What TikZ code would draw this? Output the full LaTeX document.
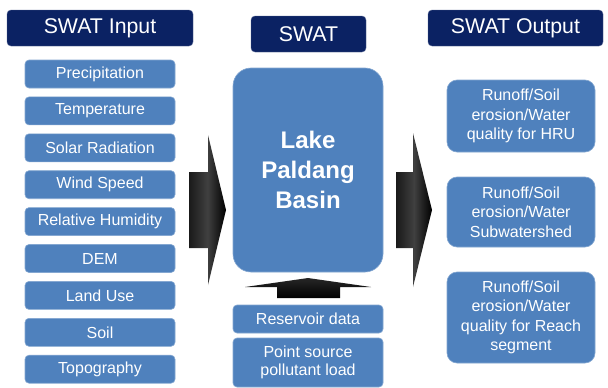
\documentclass[tikz,border=0pt]{standalone}
\usepackage{fontspec}
\setmainfont{Liberation Sans}
\begin{document}
\begin{tikzpicture}[x=1pt,y=-1pt,
  hdr/.style={fill=navy, rounded corners=4pt, text=white, font=\fontsize{21.3}{24}\selectfont, inner sep=0pt, draw=navy!70!white, line width=0.4pt},
  inbox/.style={fill=boxblue, draw=boxblue!70!white, line width=0.6pt, rounded corners=4pt, text=white, font=\fontsize{16}{19}\selectfont, inner sep=0pt, align=center},
  outbox/.style={inbox, rounded corners=10pt, minimum width=148pt, font=\fontsize{16}{19.5}\selectfont},
  arrowshade/.style={left color=black!90, right color=black, middle color=black!75}
]
\definecolor{navy}{HTML}{0B2263}
\definecolor{boxblue}{HTML}{4F81BD}
\useasboundingbox (0,0) rectangle (608,388);
\fill[white] (0,0) rectangle (608,388);

% headers
\node[hdr, minimum width=186pt, minimum height=36pt] (hin) at (100,28) {SWAT Input};
\node[hdr, minimum width=115pt, minimum height=36pt] (hswat) at (308.5,34) {SWAT};
\node[hdr, minimum width=175pt, minimum height=36pt] (hout) at (515.5,28) {SWAT Output};

% input boxes
\foreach \t [count=\i] in {Precipitation,Temperature,Solar Radiation,Wind Speed,Relative Humidity,DEM,Land Use,Soil,Topography}{
  \node[inbox, minimum width=150pt, minimum height=28pt] (in\i) at (100,{74+(\i-1)*36.9}) {\t};
}

% big basin box
\node[inbox, rounded corners=18pt, minimum width=150pt, minimum height=204pt,
      font=\bfseries\fontsize{24}{30}\selectfont] (basin) at (308,170) {Lake\\Paldang\\Basin};

% bottom boxes
\node[inbox, minimum width=150pt, minimum height=28pt] (res) at (308,319) {Reservoir data};
\node[inbox, minimum width=150pt, minimum height=49pt, font=\fontsize{16}{18.5}\selectfont] (pt) at (308,362.5) {Point source\\pollutant load};

% output boxes
\node[outbox, minimum height=72pt] (o1) at (521,116) {Runoff/Soil\\erosion/Water\\quality for HRU};
\node[outbox, minimum height=70pt] (o2) at (521,212) {Runoff/Soil\\erosion/Water\\Subwatershed};
\node[outbox, minimum height=91pt] (o3) at (521,317.5) {Runoff/Soil\\erosion/Water\\quality for Reach\\segment};

% big arrows
\shade[arrowshade]
  (189,172) -- (208,172) -- (208,135) -- (226,210) -- (208,285) -- (208,248) -- (189,248) -- cycle;
\shade[arrowshade]
  (396,172) -- (413,172) -- (413,133) -- (432,210) -- (413,287) -- (413,248) -- (396,248) -- cycle;
\shade[top color=black!85, bottom color=black]
  (277,298) -- (277,287) -- (245,287) -- (308,278) -- (371,287) -- (340,287) -- (340,298) -- cycle;
\end{tikzpicture}
\end{document}
